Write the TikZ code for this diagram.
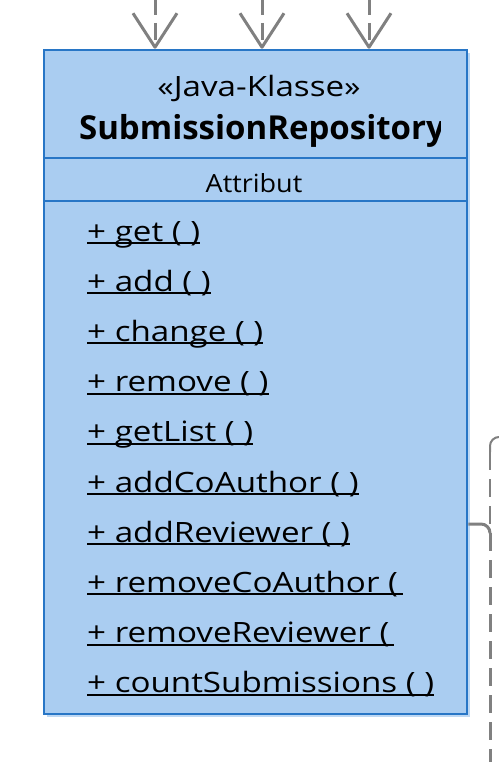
\documentclass[tikz,border=0pt]{standalone}
\usepackage{fontspec}
\setmainfont{Open Sans}
\newfontfamily\widefont[FakeStretch=1.184]{Open Sans}
\newfontfamily\attrfont[FakeStretch=1.08]{Open Sans}
\usetikzlibrary{arrows.meta}
\definecolor{boxfill}{RGB}{170,205,241}
\definecolor{boxline}{RGB}{40,118,198}
\definecolor{shadowc}{RGB}{190,216,243}
\definecolor{conn}{RGB}{128,128,128}
\tikzset{
  classbox/.style={draw=boxline, fill=boxfill, line width=2.5pt, minimum width=423pt, minimum height=664pt, inner sep=0pt},
  sep/.style={draw=boxline, line width=2.5pt},
  dep/.style={draw=conn, line width=3pt, dash pattern=on 17pt off 8pt, -{Straight Barb[length=34pt,width=44pt,line join=round]}},
  meth/.style={anchor=base west, inner sep=0pt, font=\widefont\fontsize{28}{32}\selectfont},
  uline/.style={draw=black, line width=2pt},
  thinline/.style={draw=conn, line width=2pt},
  thickline/.style={draw=conn, line width=3pt},
}
\begin{document}
\begin{tikzpicture}[x=1pt,y=-1pt]
\useasboundingbox (0,0) rectangle (498,762);
% shadow
\fill[shadowc] (47,53) rectangle (470,717);
\node[classbox] (cls) at (255.5,382) {};
\draw[sep] (cls.west |- 0,158) -- (cls.east |- 0,158);
\draw[sep] (cls.west |- 0,201) -- (cls.east |- 0,201);
% dependency arrows
\coordinate (s1) at (155,-2);
\coordinate (s2) at (262,-2);
\coordinate (s3) at (369,-2);
\draw[dep] (s1) -- (s1 |- cls.north);
\draw[dep] (s2) -- (s2 |- cls.north);
\draw[dep] (s3) -- (s3 |- cls.north);
% title
\node[anchor=base, inner sep=0pt, font=\widefont\fontsize{28}{32}\selectfont] (stereo) at (259,97) {«Java-Klasse»};
\begin{scope}
\clip (44,100) rectangle (440,158);
\node[anchor=base, inner sep=0pt, font=\fontsize{33}{38}\selectfont\bfseries] (cname) at (262,140) {SubmissionRepository};
\end{scope}
\node[anchor=base, inner sep=0pt, font=\attrfont\fontsize{25}{30}\selectfont] (attr) at (254,192) {Attribut};
% methods
\node[meth] (m1) at (87,241) {+ get ( )};
\node[meth] (m2) at (87,291.2) {+ add ( )};
\node[meth] (m3) at (87,341.4) {+ change ( )};
\node[meth] (m4) at (87,391.6) {+ remove ( )};
\node[meth] (m5) at (87,441.8) {+ getList ( )};
\node[meth] (m6) at (87,492) {+ addCoAuthor ( )};
\node[meth] (m7) at (87,542.2) {+ addReviewer ( )};
\begin{scope}
\clip (60,560) rectangle (406,610);
\node[meth] (m8) at (87,592.4) {+ removeCoAuthor ( )};
\end{scope}
\begin{scope}
\clip (60,610) rectangle (397,660);
\node[meth] (m9) at (87,642.6) {+ removeReviewer ( )};
\end{scope}
\node[meth] (m10) at (87,692.8) {+ countSubmissions ( )};
\foreach \m in {m1,m2,m3,m4,m5,m6,m7,m10}{
  \draw[uline] ([yshift=-2pt]\m.base west) -- ([yshift=-2pt]\m.base east);
}
\draw[uline] ([yshift=-2pt]m8.base west) -- ([yshift=-2pt]m8.base west -| 403,0);
\draw[uline] ([yshift=-2pt]m9.base west) -- ([yshift=-2pt]m9.base west -| 394,0);
% right-side connectors
\coordinate (r1) at (500,437);
\coordinate (r1b) at (490,762);
\draw[thinline, rounded corners=9pt] (r1) -- (490,437) -- (490,452);
\draw[thinline, dash pattern=on 18pt off 9pt] (490,452) -- (r1b);
\coordinate (c1) at (cls.east |- 0,524);
\coordinate (c2) at (490,533);
\draw[thickline, rounded corners=9pt] (c1) -- (490,524) -- (c2);
\draw[thickline, dash pattern=on 18pt off 9pt] (c2) -- (r1b);
\end{tikzpicture}
\end{document}
